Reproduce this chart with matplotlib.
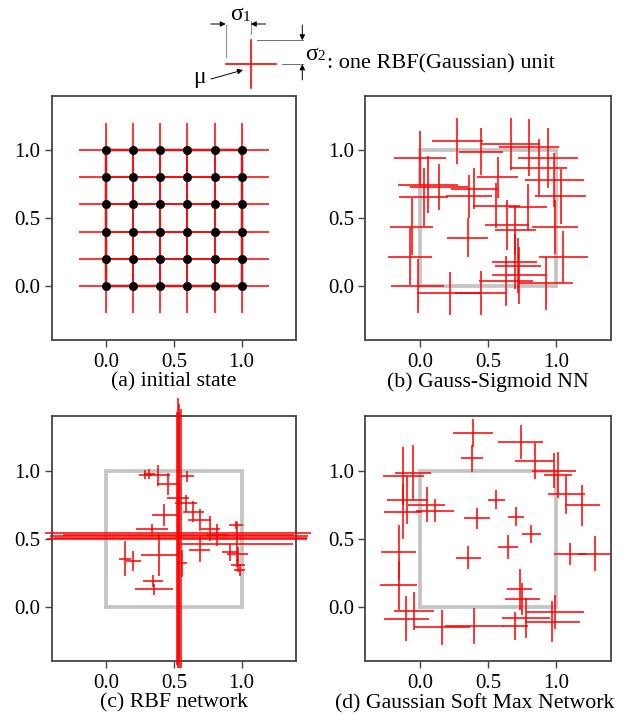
import numpy as np
import matplotlib
matplotlib.use('Agg')
import matplotlib.pyplot as plt

plt.rcParams['font.family'] = ['Liberation Serif', 'DejaVu Serif']

#Input domain (the gray unit square)
square_x = [0, 1, 1, 0, 0]
square_y = [0, 0, 1, 1, 0]

#(a) initial state: 6x6 grid of units, all with the same sigma
grid_pos = [0.0, 0.2, 0.4, 0.6, 0.8, 1.0]
a_sigma = 0.2

#(b) Gauss-Sigmoid NN: centers (mu) and widths (sigma1, sigma2)
b_mu_x = [0.276, 0.45, 0.665, 0.80, 0.0, 0.94, 0.87, 0.57, 0.985, 0.06, 0.14, 0.40,
          0.03, 0.36, 1.03, 0.79, 0.56, 0.64, -0.06, 0.99, 0.70, 0.35, -0.07, 1.05,
          0.695, 0.72, 0.725, 0.63, 0.92, -0.015, 0.22, 0.45]
b_mu_y = [1.07, 0.99, 1.045, 1.02, 0.943, 0.943, 0.87, 0.80, 0.78, 0.745, 0.73, 0.715,
          0.655, 0.66, 0.66, 0.58, 0.59, 0.45, 0.435, 0.435, 0.41, 0.356, 0.215, 0.215,
          0.18, 0.15, 0.08, 0.035, 0.02, 0.0, -0.055, -0.05]
b_sig1 = [0.19, 0.16, 0.215, 0.22, 0.19, 0.22, 0.21, 0.15, 0.215, 0.22, 0.21, 0.17,
          0.18, 0.17, 0.185, 0.14, 0.17, 0.16, 0.155, 0.17, 0.15, 0.15, 0.16, 0.18,
          0.165, 0.17, 0.2, 0.2, 0.2, 0.195, 0.23, 0.19]
b_sig2 = [0.17, 0.17, 0.19, 0.21, 0.2, 0.22, 0.21, 0.15, 0.2, 0.21, 0.17, 0.15,
          0.21, 0.16, 0.2, 0.17, 0.165, 0.185, 0.21, 0.2, 0.18, 0.145, 0.21, 0.19,
          0.2, 0.2, 0.21, 0.185, 0.195, 0.2, 0.16, 0.16]

#(c) RBF network
c_mu_x = [0.53, 0.54, 0.55, 0.525, 0.535,
          0.29, 0.32, 0.385, 0.60, 0.46, 0.53, 0.59, 0.645, 0.43, 0.69, 0.77, 0.82,
          0.96, 0.965, 0.915, 0.97, 0.975, 0.985, 0.69, 0.34, 0.39, 0.14, 0.20, 0.56,
          0.345, 0.355]
c_mu_y = [0.54, 0.52, 0.505, 0.50, 0.525,
          0.97, 0.975, 0.965, 0.96, 0.90, 0.80, 0.76, 0.70, 0.673, 0.64, 0.575, 0.53,
          0.60, 0.46, 0.40, 0.39, 0.305, 0.27, 0.42, 0.575, 0.38, 0.355, 0.335, 0.32,
          0.19, 0.13]
c_sig1 = [0.98, 0.95, 0.93, 0.96, 0.85,
          0.05, 0.04, 0.085, 0.05, 0.085, 0.08, 0.08, 0.08, 0.09, 0.085, 0.07, 0.08,
          0.05, 0.41, 0.06, 0.08, 0.05, 0.04, 0.08, 0.12, 0.135, 0.045, 0.055, 0.04,
          0.075, 0.14]
c_sig2 = [0.99, 0.97, 0.95, 0.93, 0.9,
          0.035, 0.035, 0.075, 0.04, 0.08, 0.07, 0.06, 0.075, 0.08, 0.08, 0.09, 0.08,
          0.03, 0.165, 0.06, 0.05, 0.05, 0.045, 0.09, 0.035, 0.155, 0.13, 0.075, 0.1,
          0.045, 0.04]

#(d) Gaussian Soft Max Network
d_mu_x = [0.39, 0.38, 0.737, 0.84, 0.98, 1.01, 1.07, 1.19, 1.10, 1.28,
          0.56, 0.42, 0.705, 0.815, 0.645, 0.355, 0.73, 0.75, 0.78, 0.99, 0.97,
          0.70, 0.40, 0.16, -0.098, -0.04, -0.155, -0.155, -0.12, -0.09, -0.12,
          -0.05, 0.05, 0.11]
d_mu_y = [1.275, 1.09, 1.21, 1.07, 1.0, 0.97, 0.825, 0.745, 0.39, 0.39,
          0.785, 0.65, 0.66, 0.537, 0.438, 0.36, 0.13, 0.057, -0.08, -0.04, -0.11,
          -0.14, -0.14, -0.15, -0.087, -0.03, 0.16, 0.40, 0.70, 0.785, 0.96,
          0.985, 0.75, 0.705]
d_sig1 = [0.145, 0.08, 0.165, 0.145, 0.16, 0.1, 0.135, 0.13, 0.12, 0.12,
          0.06, 0.095, 0.058, 0.07, 0.07, 0.09, 0.09, 0.13, 0.175, 0.21, 0.2,
          0.09, 0.215, 0.205, 0.165, 0.145, 0.135, 0.13, 0.14, 0.15, 0.15,
          0.13, 0.135, 0.14]
d_sig2 = [0.105, 0.1, 0.125, 0.135, 0.13, 0.17, 0.14, 0.15, 0.08, 0.13,
          0.07, 0.075, 0.07, 0.065, 0.09, 0.085, 0.15, 0.12, 0.145, 0.125, 0.15,
          0.1, 0.13, 0.13, 0.165, 0.14, 0.18, 0.2, 0.2, 0.175, 0.21,
          0.2, 0.13, 0.085]

tick_vals = [0.0, 0.5, 1.0]
tick_labels = ['0.0', '0.5', '1.0']
captions = ['(a) initial state', '(b) Gauss-Sigmoid NN',
            '(c) RBF network', '(d) Gaussian Soft Max Network']


#Drawing each gaussian unit as a cross: mu +/- sigma1 horizontally, mu +/- sigma2 vertically
def drawUnits(ax, mx, my, s1, s2):
    mx = np.asarray(mx, dtype=float)
    my = np.asarray(my, dtype=float)
    s1 = np.asarray(s1, dtype=float)
    s2 = np.asarray(s2, dtype=float)
    ax.hlines(my, mx - s1, mx + s1, colors='red', lw=1.3, alpha=0.85, clip_on=False, zorder=3)
    ax.vlines(mx, my - s2, my + s2, colors='red', lw=1.3, alpha=0.85, clip_on=False, zorder=3)


def setupPanel(ax, caption):
    ax.plot(square_x, square_y, color='#c4c4c4', lw=2.7, zorder=1, solid_joinstyle='miter')
    ax.set_xlim(-0.4, 1.4)
    ax.set_ylim(-0.4, 1.4)
    ax.set_xticks(tick_vals)
    ax.set_xticklabels(tick_labels)
    ax.set_yticks(tick_vals)
    ax.set_yticklabels(tick_labels)
    ax.tick_params(direction='out', length=5, width=1, color='#444444', labelsize=15)
    ax.tick_params(axis='x', pad=4)
    ax.tick_params(axis='y', pad=3)
    for sp in ax.spines.values():
        sp.set_color('#444444')
        sp.set_linewidth(1.3)
    ax.set_xlabel(caption, fontsize=15.7, labelpad=0.5)


#__main__-----------------------------------------------------------------------------

fig = plt.figure(figsize=(6.23, 7.15), dpi=100)

pos = [[0.083, 0.524, 0.392, 0.342],
       [0.586, 0.524, 0.395, 0.342],
       [0.083, 0.075, 0.392, 0.343],
       [0.586, 0.075, 0.395, 0.343]]
axes = [fig.add_axes(p) for p in pos]

for ax, cap in zip(axes, captions):
    setupPanel(ax, cap)

#(a)
gx, gy = np.meshgrid(grid_pos, grid_pos)
gx = gx.ravel()
gy = gy.ravel()
drawUnits(axes[0], gx, gy, np.full(gx.size, a_sigma), np.full(gx.size, a_sigma))
axes[0].plot(gx, gy, 'o', color='black', ms=5.5, zorder=4)

#(b), (c), (d)
drawUnits(axes[1], b_mu_x, b_mu_y, b_sig1, b_sig2)
drawUnits(axes[2], c_mu_x, c_mu_y, c_sig1, c_sig2)
drawUnits(axes[3], d_mu_x, d_mu_y, d_sig1, d_sig2)

#the long caption of (d) sits a bit left of the panel center, same height as (c)
fig.canvas.draw()
lab_c = axes[2].xaxis.label.get_window_extent()
y_top = axes[3].transAxes.inverted().transform((0, lab_c.y1))[1]
axes[3].xaxis.set_label_coords(0.445, y_top)

#Header legend for one unit, drawn in pixel coordinates
hd = fig.add_axes([0, 0, 1, 1], zorder=-1)
hd.set_xlim(0, 623)
hd.set_ylim(715, 0)
hd.axis('off')

cx, cy = 250.7, 64.3
hd.plot([cx - 25, cx + 25], [cy, cy], color='red', lw=1.2)
hd.plot([cx, cx], [cy - 24, cy + 24], color='red', lw=1.2)
hd.plot([cx - 25, cx - 25], [25, 57], color='#999999', lw=0.9)
hd.plot([cx, cx], [21, 34], color='#777777', lw=0.6)
hd.plot([cx + 6, 303], [cy - 24, cy - 24], color='#555555', lw=0.6)
hd.plot([cx + 31, 303], [cy, cy], color='#555555', lw=0.6)

arrow = dict(arrowstyle='-|>', color='black', lw=0.7, mutation_scale=8, shrinkA=0, shrinkB=0)
hd.annotate('', xy=(cx - 25, 24), xytext=(cx - 40, 24), arrowprops=arrow)
hd.annotate('', xy=(cx, 24), xytext=(cx + 15, 24), arrowprops=arrow)
hd.annotate('', xy=(302.3, cy - 24), xytext=(302.3, 25), arrowprops=arrow)
hd.annotate('', xy=(302.3, cy), xytext=(302.3, 80), arrowprops=arrow)
hd.annotate('', xy=(243, 70), xytext=(211, 79), arrowprops=arrow)

hd.text(236.7, 20, 'σ', fontsize=17, ha='center', va='baseline')
hd.text(246.6, 20.7, '1', fontsize=11, ha='center', va='baseline')
hd.text(311.7, 60, 'σ', fontsize=17, ha='center', va='baseline')
hd.text(321.5, 59.5, '2', fontsize=11, ha='center', va='baseline')
hd.text(327, 68, ': one RBF(Gaussian) unit', fontsize=16, ha='left', va='baseline')
hd.text(199.5, 83, 'μ', fontsize=17, ha='center', va='baseline')

plt.savefig('out.png', dpi=100)
